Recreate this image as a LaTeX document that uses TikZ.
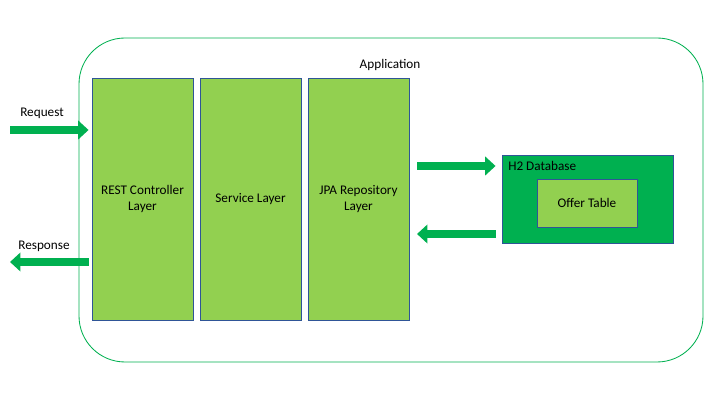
\documentclass[tikz,border=0pt]{standalone}
\usepackage{fontspec}
\setmainfont{Carlito}
\usepackage{tikz}
\usetikzlibrary{arrows.meta}

\definecolor{appgreen}{HTML}{00B050}
\definecolor{layergreen}{HTML}{92D050}
\definecolor{edgeblue}{HTML}{2F5597}

\tikzset{
	layer/.style={draw=edgeblue,fill=layergreen,line width=0.6pt,minimum width=2.525cm,minimum height=6.05cm,align=center,inner sep=0pt},
	fatarrow/.style={draw=appgreen,line width=2mm,-{Triangle[width=4.6mm,length=2.6mm]}},
	lbl/.style={inner sep=0pt}
}

\begin{document}
\begin{tikzpicture}[x=0.025cm,y=0.025cm,font=\fontsize{9.4}{11.5}\selectfont]
		\useasboundingbox (0,0) rectangle (720,405);
		\draw [appgreen,line width=0.6pt,rounded corners=1.15cm] (79,43) rectangle (703,367);
		\node[lbl] (app) at (390,340) {Application};

		\node[layer] (rest) at (142.5,206) {REST Controller\\Layer};
		\node[layer] (service) at (250.5,206) {Service Layer};
		\node[layer] (jpa) at (358.5,206) {JPA Repository\\Layer};

		\node[draw=edgeblue,fill=appgreen,line width=0.6pt,minimum width=4.275cm,minimum height=2.2cm] (h2) at (587.5,206) {};
		\node[lbl,anchor=west] (h2label) at (508,239) {H2 Database};
		\node[layer,minimum width=2.5cm,minimum height=1.2cm] (offer) at (587,202) {Offer Table};

		% incoming and outgoing traffic
		\coordinate (req) at (10,275);
		\coordinate (resp) at (10,143);
		\draw [fatarrow,shorten >=0.075cm] (req) -- (rest.west |- req);
		\draw [fatarrow] ([xshift=-3*0.025cm]rest.west |- resp) -- (resp);
		\node[lbl] (reqlabel) at (42,292) {Request};
		\node[lbl] (resplabel) at (44,159) {Response};

		% repository <-> database
		\coordinate (dbin) at (417,239);
		\coordinate (dbout) at (417,171);
		\draw [fatarrow] (dbin) -- ([xshift=-6*0.025cm]h2.west |- dbin);
		\draw [fatarrow] ([xshift=-6*0.025cm]h2.west |- dbout) -- (dbout);
\end{tikzpicture}
\end{document}
